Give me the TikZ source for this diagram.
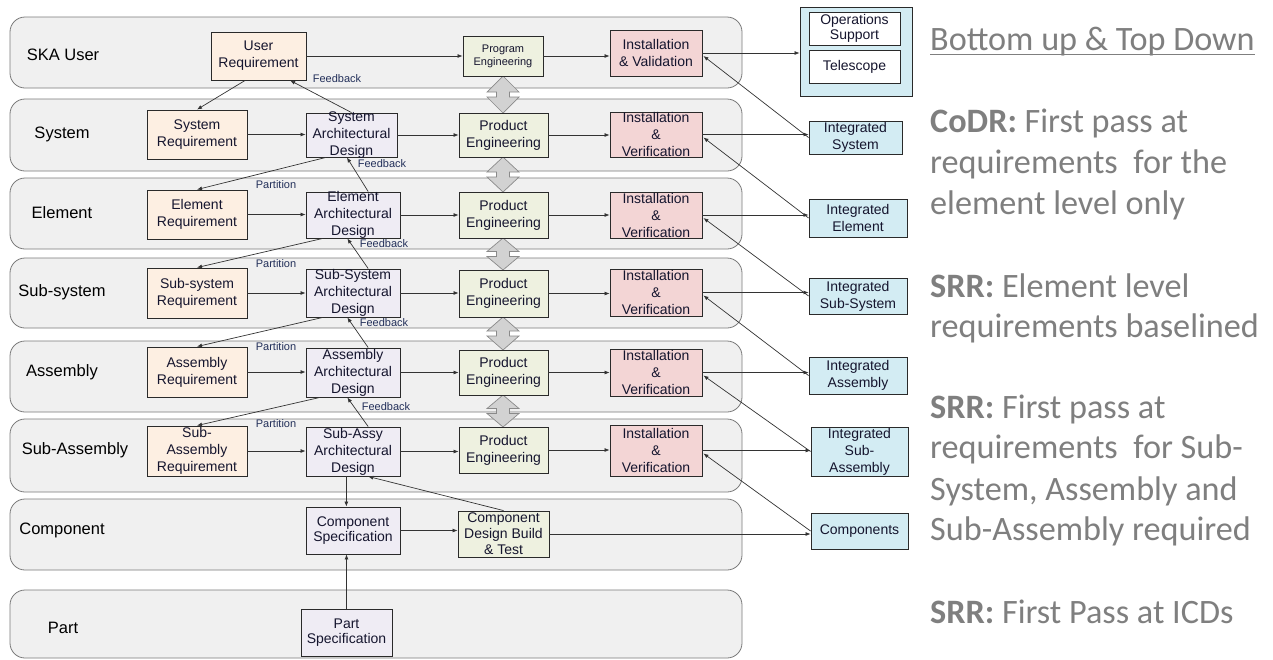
\documentclass[tikz,border=0pt]{standalone}
\usepackage{fontspec}
\setmainfont{Liberation Sans}
\newfontfamily\calfont{Carlito}
\usetikzlibrary{arrows.meta,calc}
\definecolor{reqc}{HTML}{FDEFE2}
\definecolor{archc}{HTML}{EFECF4}
\definecolor{pec}{HTML}{EEF1E0}
\definecolor{ivc}{HTML}{F3D5D5}
\definecolor{bluec}{HTML}{D3ECF3}
\definecolor{lanef}{HTML}{F0F0F0}
\definecolor{lanec}{HTML}{7A7A7A}
\definecolor{boxd}{HTML}{2A2A2A}
\definecolor{txtc}{HTML}{15152E}
\definecolor{lblc}{HTML}{23305A}
\definecolor{rgray}{HTML}{7F7F7F}
\definecolor{dblf}{HTML}{D2D2D2}
\definecolor{dbld}{HTML}{8A8A8A}
\newcommand\bx[8][boxtxt]{%
  \node[#3, minimum width={(#6)-(#4)}, minimum height={(#7)-(#5)}] (#2) at ({((#4)+(#6))/2},{((#5)+(#7))/2}) {};
  \node[#1] at (#2.center) {#8};}
\newcommand\dbl[2]{%
  \pgfmathsetmacro\ym{((#1)+(#2))/2}
  \draw[dblstyle] (503,#1) -- (519,\ym-2.5) -- (509.5,\ym-2.5) -- (509.5,\ym+2.5) -- (519,\ym+2.5) -- (503,#2) -- (487,\ym+2.5) -- (496.5,\ym+2.5) -- (496.5,\ym-2.5) -- (487,\ym-2.5) -- cycle;}
\newcommand\rl[3]{\node[rtxt] (#1) at (930,#2) {#3};}
\begin{document}
\begin{tikzpicture}[x=1pt,y=-1pt,
  lane/.style={draw=lanec, fill=lanef, line width=0.8pt, rounded corners=15pt, inner sep=0},
  bxs/.style={draw=boxd, line width=0.9pt, inner sep=0},
  req/.style={bxs, fill=reqc},
  arch/.style={bxs, fill=archc},
  pe/.style={bxs, fill=pec},
  iv/.style={bxs, fill=ivc},
  intbox/.style={bxs, fill=bluec},
  wbox/.style={bxs, fill=white},
  boxtxt/.style={align=center, font=\fontsize{14}{17}\selectfont, text=txtc, inner sep=0},
  smalltxt/.style={align=center, font=\fontsize{11}{13}\selectfont, text=txtc, inner sep=0},
  opstxt/.style={align=center, font=\fontsize{14}{15}\selectfont, text=txtc, inner sep=0},
  cdbtxt/.style={align=center, font=\fontsize{14}{16}\selectfont, text=txtc, inner sep=0},
  lanetxt/.style={font=\fontsize{16.5}{18}\selectfont, text=black, inner sep=0},
  fbl/.style={font=\fontsize{11}{12}\selectfont, text=lblc, inner sep=0},
  con/.style={draw=black!80, line width=0.7pt, -{Latex[length=5pt,width=4pt]}},
  dblstyle/.style={draw=dbld, fill=dblf, line width=0.7pt},
  rtxt/.style={anchor=base west, inner sep=0, text=rgray, font=\calfont\fontsize{34.2}{41}\selectfont}
]
\useasboundingbox (0,0) rectangle (1273,659);
\fill[white] (0,0) rectangle (1273,659);

% lanes
\bx{lane1}{lane}{10}{17}{742}{88}{}
\bx{lane2}{lane}{10}{99}{742}{171}{}
\bx{lane3}{lane}{10}{178}{742}{249}{}
\bx{lane4}{lane}{10}{258}{742}{328}{}
\bx{lane5}{lane}{10}{341}{742}{412}{}
\bx{lane6}{lane}{10}{419}{742}{492}{}
\bx{lane7}{lane}{10}{499}{742}{570}{}
\bx{lane8}{lane}{10}{590}{742}{658}{}

\node[lanetxt] (lab1) at (63,55) {SKA User};
\node[lanetxt] (lab2) at (62,134) {System};
\node[lanetxt] (lab3) at (62,213) {Element};
\node[lanetxt] (lab4) at (62,292) {Sub-system};
\node[lanetxt] (lab5) at (62,372) {Assembly};
\node[lanetxt] (lab6) at (75,450) {Sub-Assembly};
\node[lanetxt] (lab7) at (62,530) {Component};
\node[lanetxt] (lab8) at (63,628) {Part};

% block double arrows
\dbl{76}{113}
\dbl{157}{192}
\dbl{238}{270}
\dbl{317}{350}
\dbl{395}{427}

% requirement column
\bx{ur}{req}{211}{32}{306}{80}{User\\Requirement}
\bx{sr}{req}{147}{110}{247}{159}{System\\Requirement}
\bx{er}{req}{147}{190}{247}{239}{Element\\Requirement}
\bx{ssr}{req}{147}{268}{247}{318}{Sub-system\\Requirement}
\bx{ar}{req}{147}{347}{247}{397}{Assembly\\Requirement}
\bx{sar}{req}{147}{426}{247}{476}{Sub-\\Assembly\\Requirement}

% architecture column
\bx{sad}{arch}{306}{113}{397}{157}{System\\Architectural\\Design}
\bx{ead}{arch}{306}{192}{400}{238}{Element\\Architectural\\Design}
\bx{ssad}{arch}{306}{269}{400}{317}{Sub-System\\Architectural\\Design}
\bx{aad}{arch}{306}{348}{400}{397}{Assembly\\Architectural\\Design}
\bx{saad}{arch}{306}{427}{400}{476}{Sub-Assy\\Architectural\\Design}
\bx[opstxt]{cs}{arch}{306}{507}{400}{554}{Component\\Specification}
\bx[opstxt]{ps}{arch}{301}{609}{392}{656}{Part\\Specification}

% engineering column
\bx[smalltxt]{pe0}{pe}{463}{36}{543}{76}{Program\\Engineering}
\bx{pe1}{pe}{459}{113}{548}{157}{Product\\Engineering}
\bx{pe2}{pe}{459}{192}{548}{238}{Product\\Engineering}
\bx{pe3}{pe}{459}{270}{548}{317}{Product\\Engineering}
\bx{pe4}{pe}{459}{350}{548}{395}{Product\\Engineering}
\bx{pe5}{pe}{459}{427}{548}{473}{Product\\Engineering}
\bx[cdbtxt]{cdbt}{pe}{458}{511}{549}{557}{Component\\Design Build\\\& Test}

% installation column
\bx{iv0}{iv}{610}{30}{702}{76}{Installation\\\& Validation}
\bx{iv1}{iv}{610}{112}{702}{157}{Installation\\\&\\Verification}
\bx{iv2}{iv}{610}{192}{702}{238}{Installation\\\&\\Verification}
\bx{iv3}{iv}{610}{269}{702}{316}{Installation\\\&\\Verification}
\bx{iv4}{iv}{610}{349}{702}{396}{Installation\\\&\\Verification}
\bx{iv5}{iv}{610}{425}{702}{476}{Installation\\\&\\Verification}

% integrated column
\bx{ops}{intbox}{800}{7}{912}{96}{}
\bx[opstxt]{osup}{wbox}{809}{12}{900}{45}{Operations\\Support}
\bx[opstxt]{tel}{wbox}{809}{50}{900}{83}{Telescope}
\bx{isys}{intbox}{809}{121}{902}{154}{Integrated\\System}
\bx{iel}{intbox}{809}{199}{907}{237}{Integrated\\Element}
\bx{iss}{intbox}{809}{278}{907}{314}{Integrated\\Sub-System}
\bx{ias}{intbox}{809}{357}{907}{394}{Integrated\\Assembly}
\bx{isa}{intbox}{811}{427}{908}{476}{Integrated\\Sub-\\Assembly}
\bx{comp}{intbox}{811}{513}{908}{549}{Components}

% horizontal flow
\foreach \a/\b in {ur/pe0, pe0/iv0, iv0/ops, sr/sad, er/ead, ssr/ssad, ar/aad, sar/saad,
  sad/pe1, ead/pe2, ssad/pe3, aad/pe4, saad/pe5, pe1/iv1, pe2/iv2, pe3/iv3, pe4/iv4, pe5/iv5,
  iv1/isys, iv2/iel, iv3/iss, iv4/ias, iv5/isa, cs/cdbt, cdbt/comp}
  \draw[con] (\a.east) -- (\a.east -| \b.west);

% integration back up
\foreach \a/\b in {isys/iv0, iel/iv1, iss/iv2, ias/iv3, isa/iv4, comp/iv5}
  \draw[con] (\a.west) -- ($(\b.east)+(1,3)$);

% partition (top down)
\draw[con] ($(ur.south west)!0.36!(ur.south east)$) -- (sr.north);
\draw[con] ($(sad.south west)!0.22!(sad.south east)$) -- (er.north);
\draw[con] ($(ead.south west)!0.18!(ead.south east)$) -- (ssr.north);
\draw[con] ($(ssad.south west)!0.18!(ssad.south east)$) -- (ar.north);
\draw[con] ($(aad.south west)!0.15!(aad.south east)$) -- (sar.north);
\node[fbl] (pl1) at (276,185) {Partition};
\node[fbl] (pl2) at (276,264) {Partition};
\node[fbl] (pl3) at (276,347) {Partition};
\node[fbl] (pl4) at (276,424) {Partition};

% feedback (bottom up)
\draw[con] (sad.north) -- ($(ur.south west)!0.83!(ur.south east)$);
\draw[con] ($(ead.north west)!0.66!(ead.north east)$) -- ($(sad.south west)!0.45!(sad.south east)$);
\draw[con] ($(ssad.north west)!0.66!(ssad.north east)$) -- ($(ead.south west)!0.44!(ead.south east)$);
\draw[con] ($(aad.north west)!0.66!(aad.north east)$) -- ($(ssad.south west)!0.44!(ssad.south east)$);
\draw[con] ($(saad.north west)!0.66!(saad.north east)$) -- ($(aad.south west)!0.44!(aad.south east)$);
\draw[con] (cdbt.north) -- ($(saad.south west)!0.66!(saad.south east)$);
\node[fbl] (fl1) at (337,79) {Feedback};
\node[fbl] (fl2) at (382,164) {Feedback};
\node[fbl] (fl3) at (384,244) {Feedback};
\node[fbl] (fl4) at (384,323) {Feedback};
\node[fbl] (fl5) at (386,407) {Feedback};

% component level
\coordinate (sadown) at ($(saad.south west)!0.43!(saad.south east)$);
\draw[con] (sadown) -- (sadown |- cs.north);
\draw[con] (ps.north) -- (ps.north |- cs.south);

% right-hand notes
\rl{t0}{50}{Bottom up \& Top Down}
\draw[rgray, line width=1.8pt] ($(t0.base west)+(0,4.5)$) -- ($(t0.base east)+(0,4.5)$);
\rl{t1}{132}{\textbf{CoDR:} First pass at}
\rl{t2}{173}{requirements\ \ for the}
\rl{t3}{214}{element level only}
\rl{t4}{297}{\textbf{SRR:} Element level}
\rl{t5}{337}{requirements baselined}
\rl{t6}{418}{\textbf{SRR:} First pass at}
\rl{t7}{458}{requirements\ \ for Sub-}
\rl{t8}{500}{System, Assembly and}
\rl{t9}{540}{Sub-Assembly required}
\rl{t10}{623}{\textbf{SRR:} First Pass at ICDs}
\end{tikzpicture}
\end{document}
